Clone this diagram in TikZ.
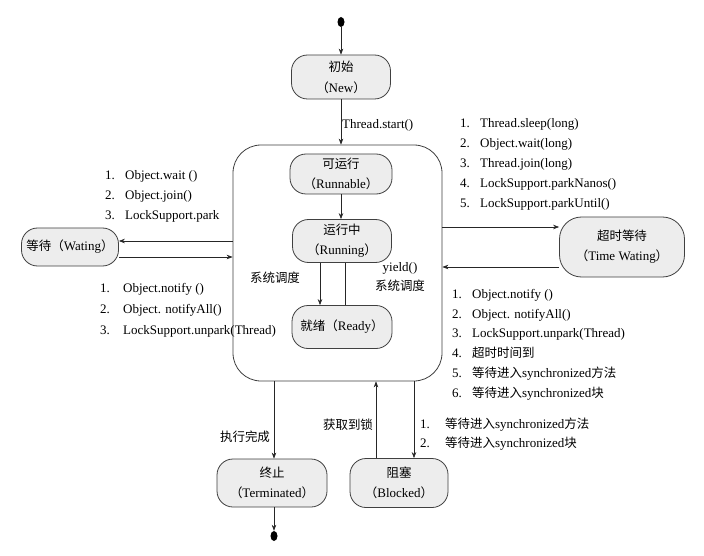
\documentclass[tikz,border=0pt]{standalone}
\usepackage{fontspec}
\setmainfont{Liberation Serif}
\newfontfamily\cjk[Scale=0.96]{Noto Sans CJK SC}
\usetikzlibrary{arrows.meta,shapes.geometric}
\newcommand\zh[1]{{\cjk #1}}
\newcommand\itm[1]{\makebox[20pt][l]{#1}}
\begin{document}
\begin{tikzpicture}[x=1pt,y=-1pt,
 state/.style={draw=black!75, fill=black!7, rounded corners=16pt, align=center, inner sep=0pt, font=\fontsize{13}{20}\selectfont, line width=0.8pt},
 arr/.style={-{Stealth[length=6pt,width=4.5pt]}, line width=0.6pt, draw=black!85},
 ln/.style={line width=0.6pt, draw=black!85},
 lbl/.style={font=\fontsize{13}{20}\selectfont, inner sep=0pt, align=left},
 dot/.style={ellipse, fill=black, minimum width=7pt, minimum height=10pt, inner sep=0pt},
]
\useasboundingbox (0,0) rectangle (704,556);
\fill[white] (0,0) rectangle (704,556);

% big box
\node[draw=black!75, line width=0.8pt, rounded corners=28pt, fill=white, minimum width=209pt, minimum height=236pt] (box) at (337.5,263) {};

\node[dot] (start) at (341,22) {};
\node[state, minimum width=99pt, minimum height=44pt, font=\fontsize{13}{21}\selectfont] (new) at (341,77) {\zh{初始}\\\zh{（}New\zh{）}};
\node[state, minimum width=102pt, minimum height=40pt] (runnable) at (341,174) {\zh{可运行}\\\zh{（}Runnable\zh{）}};
\node[state, minimum width=99pt, minimum height=43pt] (running) at (342,241) {\zh{运行中}\\\zh{（}Running\zh{）}};
\node[state, minimum width=100pt, minimum height=43pt] (ready) at (342,327) {\zh{就绪（}Ready\zh{）}};
\node[state, minimum width=97pt, minimum height=38pt] (wait) at (70,247) {\zh{等待（}Wating\zh{）}};
\node[state, rounded corners=22pt, minimum width=125pt, minimum height=60pt] (timed) at (622,247) {\zh{超时等待}\\\zh{（}Time Wating\zh{）}};
\node[state, minimum width=110pt, minimum height=48pt] (term) at (272,483) {\zh{终止}\\\zh{（}Terminated\zh{）}};
\node[state, minimum width=98pt, minimum height=49pt] (blocked) at (399,483) {\zh{阻塞}\\\zh{（}Blocked\zh{）}};
\node[dot] (end) at (274,536) {};

% connectors
\draw[arr] (start) -- (new.north);
\draw[arr] (new.south) -- (new.south |- box.north);
\draw[arr] (runnable.south) -- (runnable.south |- running.north);
\draw[arr] (running.south -| 320,0) -- (ready.north -| 320,0);
\draw[ln] (ready.north -| 345,0) -- (running.south -| 345,0);
\draw[arr] (box.west |- 0,241) -- (wait.east |- 0,241);
\draw[arr] (wait.east |- 0,257) -- (box.west |- 0,257);
\draw[arr] (box.east |- 0,227) -- (timed.west |- 0,227);
\draw[arr] (timed.west |- 0,267) -- (box.east |- 0,267);
\draw[arr] (box.south -| 274,0) -- (term.north -| 274,0);
\draw[arr] (blocked.north -| 376,0) -- (box.south -| 376,0);
\draw[arr] (box.south -| 414,0) -- (blocked.north -| 414,0);
\draw[arr] (term.south -| 274,0) -- (end.north);

% labels
\node[lbl, anchor=west] (lstart) at (342,125) {Thread.start()};
\node[lbl, anchor=north west] (lwaitin) at (105,170) {\itm{1.}Object.wait ()\\\itm{2.}Object.join()\\\itm{3.}LockSupport.park};
\node[lbl, anchor=north west, font=\fontsize{13}{21}\selectfont] (lwaitout) at (100,283) {\makebox[23pt][l]{1.}Object.notify ()\\\makebox[23pt][l]{2.}Object. notifyAll()\\\makebox[23pt][l]{3.}LockSupport.unpark(Thread)};
\node[lbl, anchor=north west] (ltimedin) at (460,118) {\itm{1.}Thread.sleep(long)\\\itm{2.}Object.wait(long)\\\itm{3.}Thread.join(long)\\\itm{4.}LockSupport.parkNanos()\\\itm{5.}LockSupport.parkUntil()};
\node[lbl, anchor=north west, font=\fontsize{13}{19.8}\selectfont] (ltimedout) at (452,289) {\itm{1.}Object.notify ()\\\itm{2.}Object. notifyAll()\\\itm{3.}LockSupport.unpark(Thread)\\\itm{4.}\zh{超时时间到}\\\itm{5.}\zh{等待进入}synchronized\zh{方法}\\\itm{6.}\zh{等待进入}synchronized\zh{块}};
\node[lbl, anchor=north west, font=\fontsize{13}{19}\selectfont] (lblock) at (420,418) {\makebox[25pt][l]{1.}\zh{等待进入}synchronized\zh{方法}\\\makebox[25pt][l]{2.}\zh{等待进入}synchronized\zh{块}};
\node[lbl] (lsched) at (275,278) {\zh{系统调度}};
\node[lbl, align=center, font=\fontsize{13}{19}\selectfont] (lyield) at (400,277) {yield()\\\zh{系统调度}};
\node[lbl] (ldone) at (245,437) {\zh{执行完成}};
\node[lbl] (llock) at (348,425) {\zh{获取到锁}};
\end{tikzpicture}
\end{document}
